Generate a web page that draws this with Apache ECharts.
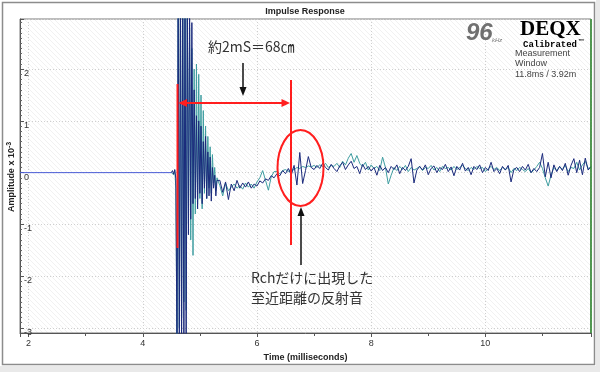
<!DOCTYPE html>
<html>
<head>
<meta charset="utf-8">
<script src="https://cdn.jsdelivr.net/npm/echarts@6/dist/echarts.min.js"></script>
<style>html,body{margin:0;padding:0;background:#fff;}#c{width:600px;height:372px;}</style>
</head>
<body>
<div id="c"></div>
<script>
// ---------- data (amplitude x 10^-3, time in ms) ----------
var preTime = [1.85, 4.50];
var preValues = [0, 0];

// impulse region sampled every 0.02 ms from 4.50 ms
var impulseStart = 4.50, impulseStep = 0.02;
var navyImpulse = [0.00, 0.04, -0.03, 0.06, -0.12, -3.6, 3.6, -3.6, 3.6, -3.6,
  3.6, -3.6, 3.6, -3.6, 3.4, -1.2, 3.3, -0.9, 2.9, -0.6,
  1.6, -0.5, 1.1, -0.7, 1.0, -0.4, 0.9, -0.6, 0.6, -0.3,
  0.7, -0.5, 0.4, -0.45, 0.3, -0.55, 0.1, -0.3, -0.05, -0.45, -0.15];
var tealImpulse = [0.00, 0.03, -0.04, 0.05, -0.3, -3.6, 3.6, -3.0, 3.6, -2.8,
  3.6, -2.5, 3.6, -2.66, 3.2, -1.0, 2.8, -1.3, 2.4, -1.6,
  2.0, -0.8, 2.1, -0.6, 1.9, -0.5, 1.5, -0.7, 1.2, -0.4,
  0.9, -0.5, 0.7, -0.3, 0.5, -0.4, 0.35, -0.2, 0.1, -0.35, -0.1];

// tail region sampled every 0.05 ms from 5.35 ms
var tailStart = 5.35, tailStep = 0.05;
var navyTail = [
  -0.15, -0.38, -0.18, -0.52, -0.22, -0.35, -0.15, -0.30, -0.20, -0.28,
  -0.18, -0.30, -0.22, -0.26, -0.16, -0.20, -0.12, -0.15, -0.06, -0.10,
  -0.02, -0.06, 0.04, -0.02, 0.08, -0.05, 0.14, -0.24, 0.39, -0.21,
  0.04, 0.31, 0.10, 0.06, 0.14, 0.08, 0.18, 0.10, 0.05, 0.16,
  0.08, 0.02, 0.13, 0.20, 0.06, 0.15, 0.22, 0.08, 0.12, -0.02,
  0.16, 0.06, 0.12, 0.03, 0.10, -0.05, 0.14, 0.04, 0.10, 0.00,
  0.12, 0.06, 0.15, -0.02, 0.10, 0.04, 0.12, 0.27, -0.20, 0.05,
  0.12, 0.05, 0.15, -0.04, 0.08, 0.13, 0.00, 0.10, 0.06, 0.16,
  0.02, 0.11, -0.06, 0.12, 0.05, 0.18, 0.03, 0.10, -0.04, 0.12,
  0.06, 0.15, 0.00, 0.10, 0.04, 0.20, 0.02, 0.08, -0.02, 0.12,
  0.05, 0.14, -0.18, 0.06, 0.10, 0.02, 0.12, 0.05, 0.16, 0.00,
  0.08, 0.02, 0.10, 0.37, -0.08, 0.20, -0.10, 0.15, 0.02, 0.12,
  0.04, 0.18, -0.05, 0.14, 0.27, 0.00, 0.24, -0.04, 0.28, 0.05,
  0.12];
var tealTail = [
  -0.25, -0.45, -0.20, -0.35, -0.28, -0.22, -0.30, -0.25, -0.32, -0.20,
  -0.28, -0.22, -0.30, -0.18, -0.10, 0.04, -0.15, -0.34, -0.08, 0.02,
  0.02, -0.02, 0.04, 0.06, 0.02, 0.08, 0.05, 0.10, 0.08, 0.12,
  0.10, 0.13, 0.11, 0.14, 0.10, 0.15, 0.12, 0.18, 0.10, 0.14,
  0.12, 0.18, 0.10, 0.22, 0.15, 0.28, 0.37, 0.20, 0.33, 0.18,
  0.12, 0.20, 0.05, 0.15, 0.08, 0.12, 0.04, 0.30, 0.10, -0.22,
  -0.05, 0.10, 0.04, 0.12, 0.06, 0.14, 0.02, 0.10, 0.05, 0.08,
  0.12, 0.04, 0.10, 0.08, 0.14, 0.05, 0.10, 0.02, 0.12, 0.08,
  0.10, 0.05, 0.12, 0.06, 0.10, 0.14, 0.08, 0.04, 0.10, 0.06,
  0.12, 0.08, 0.10, 0.02, 0.08, 0.12, 0.06, 0.10, 0.04, 0.10,
  0.06, 0.10, 0.00, 0.08, 0.04, 0.10, 0.06, 0.02, 0.08, 0.00,
  0.05, 0.12, 0.20, 0.08, -0.10, -0.26, -0.05, 0.10, 0.04, 0.12,
  0.06, 0.14, 0.02, 0.10, 0.08, 0.20, 0.05, 0.15, 0.22, 0.08,
  0.10];

var xTickLabels = ['2', '4', '6', '8', '10'];
var yTickLabels = ['-3', '-2', '-1', '0', '1', '2'];

// ---------- build series ----------
function build(imp, tail) {
  var out = [];
  for (var i = 0; i < imp.length; i++) out.push([+(impulseStart + i * impulseStep).toFixed(3), imp[i]]);
  for (var j = 0; j < tail.length; j++) out.push([+(tailStart + j * tailStep).toFixed(3), tail[j]]);
  return out;
}
var preData = preTime.map(function (t, i) { return [t, preValues[i]]; });

// light diagonal hatch for plot background
var pat = document.createElement('canvas');
pat.width = 5; pat.height = 5;
var pc = pat.getContext('2d');
pc.fillStyle = '#ffffff'; pc.fillRect(0, 0, 5, 5);
pc.strokeStyle = '#f1f1f1'; pc.lineWidth = 1;
pc.beginPath(); pc.moveTo(0, 0); pc.lineTo(5, 5); pc.stroke();

var chart = echarts.init(document.getElementById('c'), null, { renderer: 'canvas' });
var red = '#ff1e1e';
function tickFmt(list) {
  return function (v) {
    var r = Math.round(v);
    return (Math.abs(v - r) < 1e-6 && list.indexOf(String(r)) >= 0) ? String(r) : '';
  };
}
chart.setOption({
  animation: false,
  backgroundColor: '#ffffff',
  grid: {
    left: 20, right: 9, top: 19, bottom: 39,
    containLabel: false, outerBoundsMode: 'none',
    show: true, borderColor: '#7a7a7a', borderWidth: 1,
    backgroundColor: { image: pat, repeat: 'repeat' }
  },
  xAxis: {
    type: 'value', min: 1.85, max: 11.85, splitNumber: 5,
    name: 'Time (milliseconds)', nameLocation: 'middle', nameGap: 18,
    nameTextStyle: { fontFamily: 'Liberation Sans', fontWeight: 'bold', fontSize: 9, color: '#222' },
    axisLine: { show: true, onZero: false, lineStyle: { color: '#555', width: 1 } },
    axisTick: { show: true, length: 4, lineStyle: { color: '#555' } },
    minorTick: { show: true, splitNumber: 2, length: 3, lineStyle: { color: '#555' } },
    axisLabel: {
      fontFamily: 'Liberation Sans', fontSize: 9, color: '#333', margin: 6,
      showMinLabel: false, showMaxLabel: false,
      formatter: tickFmt(xTickLabels)
    },
    splitLine: { show: true, lineStyle: { color: '#cfcfcf', type: [1, 2], width: 1 } }
  },
  yAxis: {
    type: 'value', min: -3.1, max: 2.97, splitNumber: 6,
    axisLine: { show: true, onZero: false, lineStyle: { color: '#555', width: 1 } },
    axisTick: { show: true, inside: true, length: 4, lineStyle: { color: '#555' } },
    minorTick: { show: true, splitNumber: 10, length: 2, lineStyle: { color: '#666' } },
    axisLabel: {
      inside: true, margin: 4, fontFamily: 'Liberation Sans', fontSize: 9, color: '#333',
      verticalAlign: 'top', align: 'left',
      showMinLabel: false, showMaxLabel: false,
      formatter: tickFmt(yTickLabels)
    },
    splitLine: { show: true, lineStyle: { color: '#cfcfcf', type: [1, 2], width: 1 } }
  },
  series: [
    { type: 'line', name: 'pre', data: preData, showSymbol: false, symbol: 'none',
      lineStyle: { color: '#4a5cd6', width: 1 }, z: 3 },
    { type: 'line', name: 'L', data: build(tealImpulse, tealTail), showSymbol: false, symbol: 'none',
      lineStyle: { color: '#3f9da0', width: 1 }, z: 3 },
    { type: 'line', name: 'R', data: build(navyImpulse, navyTail), showSymbol: false, symbol: 'none',
      lineStyle: { color: '#1b2a7c', width: 1 }, z: 4 }
  ],
  graphic: [
    // panel frame
    { type: 'rect', shape: { x: 2.5, y: 2.5, width: 592, height: 362 }, style: { fill: null, stroke: '#8c8c8c', lineWidth: 1.5 }, z: 1 },
    { type: 'rect', shape: { x: 596, y: 0, width: 4, height: 372 }, style: { fill: '#e9e9e9' }, z: 1 },
    { type: 'rect', shape: { x: 0, y: 366, width: 600, height: 6 }, style: { fill: '#e9e9e9' }, z: 1 },
    // right green border
    { type: 'line', shape: { x1: 591, y1: 19, x2: 591, y2: 333 }, style: { stroke: '#2e8b2e', lineWidth: 1.5 }, z: 5 },
    // title
    { type: 'text', x: 305, y: 12, style: { text: 'Impulse Response', font: 'bold 9px "Liberation Sans"', fill: '#222', textAlign: 'center', textVerticalAlign: 'middle' }, z: 5 },
    // y axis name (rotated)
    { type: 'text', x: 12, y: 177, rotation: Math.PI / 2,
      style: { text: 'Amplitude x 10{s|-3}', font: 'bold 9px "Liberation Sans"', fill: '#222', textAlign: 'center', textVerticalAlign: 'middle',
        rich: { s: { font: 'bold 7px "Liberation Sans"', fill: '#222', padding: [0, 0, 5, 0] } } }, z: 5 },
    // logo block
    { type: 'text', x: 466, y: 33, style: { text: '96', font: 'italic bold 24px "Liberation Sans"', fill: '#707070', textVerticalAlign: 'middle' }, z: 5 },
    { type: 'text', x: 492, y: 40, style: { text: 'kHz', font: 'italic 6px "Liberation Sans"', fill: '#777', textVerticalAlign: 'middle' }, z: 5 },
    { type: 'text', x: 520, y: 30, style: { text: 'DEQX', font: 'bold 21px "Liberation Serif"', fill: '#000', textVerticalAlign: 'middle' }, z: 5 },
    { type: 'text', x: 523, y: 45, style: { text: 'Calibrated', font: 'bold 9px "Liberation Mono"', fill: '#000', textVerticalAlign: 'middle' }, z: 5 },
    { type: 'text', x: 578, y: 41, style: { text: '™', font: 'bold 6px "Liberation Sans"', fill: '#000', textVerticalAlign: 'middle' }, z: 5 },
    { type: 'text', x: 515, y: 54, style: { text: 'Measurement', font: '9px "Liberation Sans"', fill: '#444', textVerticalAlign: 'middle' }, z: 5 },
    { type: 'text', x: 515, y: 64, style: { text: 'Window', font: '9px "Liberation Sans"', fill: '#444', textVerticalAlign: 'middle' }, z: 5 },
    { type: 'text', x: 515, y: 75, style: { text: '11.8ms / 3.92m', font: '9px "Liberation Sans"', fill: '#444', textVerticalAlign: 'middle' }, z: 5 },
    // annotations
    { type: 'text', x: 208, y: 47, style: { text: '約2mS＝68㎝', font: '14px "Noto Sans CJK JP"', fill: '#333', textVerticalAlign: 'middle' }, z: 100 },
    { type: 'line', shape: { x1: 243, y1: 63, x2: 243, y2: 89 }, style: { stroke: '#111', lineWidth: 1.5 }, z: 100 },
    { type: 'polygon', shape: { points: [[243, 96], [239.5, 87], [246.5, 87]] }, style: { fill: '#111' }, z: 100 },
    { type: 'line', shape: { x1: 177.5, y1: 84, x2: 177.5, y2: 248 }, style: { stroke: red, lineWidth: 2 }, z: 100 },
    { type: 'line', shape: { x1: 291, y1: 80, x2: 291, y2: 245 }, style: { stroke: red, lineWidth: 2 }, z: 100 },
    { type: 'line', shape: { x1: 183, y1: 103, x2: 285, y2: 103 }, style: { stroke: red, lineWidth: 2 }, z: 100 },
    { type: 'polygon', shape: { points: [[178.5, 103], [187, 99], [187, 107]] }, style: { fill: red }, z: 100 },
    { type: 'polygon', shape: { points: [[290, 103], [281.5, 99], [281.5, 107]] }, style: { fill: red }, z: 100 },
    { type: 'ellipse', shape: { cx: 300.5, cy: 168, rx: 23, ry: 38 }, style: { fill: null, stroke: red, lineWidth: 2 }, z: 100 },
    { type: 'line', shape: { x1: 301, y1: 265, x2: 301, y2: 214 }, style: { stroke: '#111', lineWidth: 1.5 }, z: 100 },
    { type: 'polygon', shape: { points: [[301, 207], [297.5, 216], [304.5, 216]] }, style: { fill: '#111' }, z: 100 },
    { type: 'text', x: 251, y: 278, style: { text: 'Rchだけに出現した', font: '14px "Noto Sans CJK JP"', fill: '#333', textVerticalAlign: 'middle' }, z: 100 },
    { type: 'text', x: 251, y: 298, style: { text: '至近距離の反射音', font: '14px "Noto Sans CJK JP"', fill: '#333', textVerticalAlign: 'middle' }, z: 100 }
  ]
});
</script>
</body>
</html>
